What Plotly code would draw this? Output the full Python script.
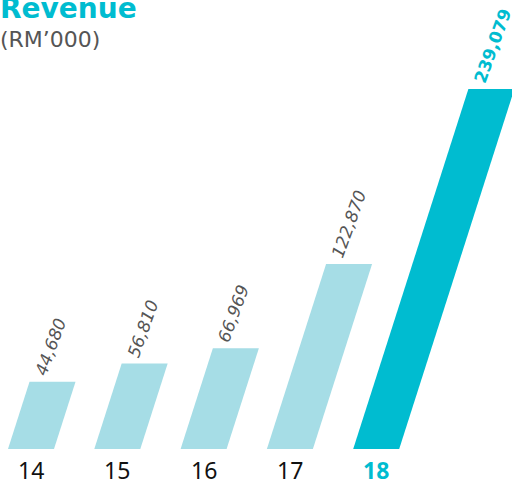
import plotly.graph_objects as go

# ---- data ----
years = ["14", "15", "16", "17", "18"]
revenue = [44680, 56810, 66969, 122870, 239079]
value_labels = ["44,680", "56,810", "66,969", "122,870", "239,079"]
highlight = [False, False, False, False, True]

# ---- style ----
W, H = 512, 488
LIGHT = "#A6DDE6"
TEAL = "#00BCD0"
GREY = "#555555"
BAR_W = 0.533          # bar width in category units
SLANT = 0.32           # horizontal px per vertical px
PX_PER_CAT = 86.3
VAL_PER_PX = 664.3
X0 = -8 / PX_PER_CAT
X1 = X0 + W / PX_PER_CAT
Y0 = -(H - 449) * VAL_PER_PX
Y1 = 449 * VAL_PER_PX

fig = go.Figure()
for i, (v, hl) in enumerate(zip(revenue, highlight)):
    s = (v / VAL_PER_PX) * SLANT / PX_PER_CAT
    fig.add_trace(go.Scatter(
        x=[i, i + BAR_W, i + BAR_W + s, i + s, i],
        y=[0, 0, v, v, 0],
        mode="lines", fill="toself",
        fillcolor=TEAL if hl else LIGHT,
        line=dict(width=0, color=TEAL if hl else LIGHT),
        hoverinfo="skip", showlegend=False,
    ))
    fig.add_annotation(
        x=i + s, y=v, xref="x", yref="y",
        text=(f"<b>{value_labels[i]}</b>" if hl else f"<i>{value_labels[i]}</i>"),
        showarrow=False, textangle=-70,
        xanchor="left", yanchor="bottom", xshift=-1, yshift=1,
        font=dict(family="DejaVu Sans", size=17, color=TEAL if hl else GREY),
    )
    fig.add_annotation(
        x=i + BAR_W / 2, y=0, xref="x", yref="y",
        text=(f"<b>{years[i]}</b>" if hl else years[i]),
        showarrow=False, xanchor="center", yanchor="bottom", yshift=-38,
        borderpad=0,
        font=dict(family="Noto Sans", size=23, color=TEAL if hl else "#111111"),
    )

fig.add_annotation(
    x=0, y=1, xref="paper", yref="paper", text="<b>Revenue</b>",
    showarrow=False, xanchor="left", yanchor="top", xshift=-2, yshift=10,
    font=dict(family="DejaVu Sans", size=28, color=TEAL),
)
fig.add_annotation(
    x=0, y=1, xref="paper", yref="paper", text="(RM’000)",
    showarrow=False, xanchor="left", yanchor="top", xshift=-2, yshift=-25,
    font=dict(family="DejaVu Sans", size=22, color=GREY),
)

fig.update_layout(
    width=W, height=H,
    margin=dict(l=0, r=0, t=0, b=0),
    paper_bgcolor="white", plot_bgcolor="white",
    xaxis=dict(range=[X0, X1], visible=False, fixedrange=True),
    yaxis=dict(range=[Y0, Y1], visible=False, fixedrange=True),
)
fig.write_html(
    "out.html",
    config={"displayModeBar": False},
    post_script="document.body.style.margin='0';document.body.style.overflow='hidden';",
)
